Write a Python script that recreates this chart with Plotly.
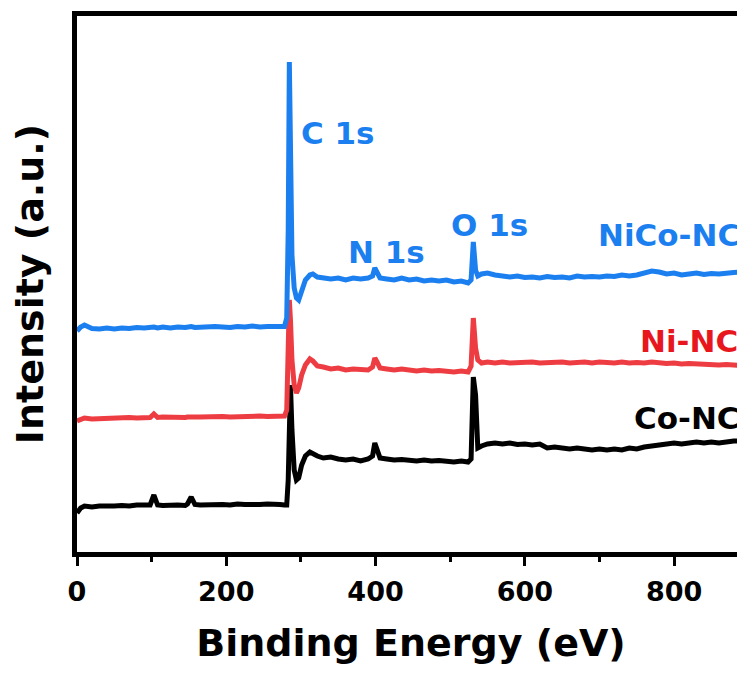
import plotly.graph_objects as go

# Binding energy grid (eV)
energy_ev = [0, 5, 10, 20, 30, 40, 50, 60, 70, 80, 90, 98, 103, 108, 115, 125, 135, 145, 148, 153,
             158, 165, 175, 185, 195, 205, 215, 225, 235, 245, 255, 265, 272, 278, 281, 283, 284.5, 286, 288, 291,
             294, 297, 301, 306, 312, 316, 322, 330, 340, 350, 360, 370, 380, 390, 396, 399, 402, 406, 415, 425,
             435, 445, 455, 465, 475, 485, 495, 505, 515, 524, 528, 531, 534, 537, 542, 550, 560, 570, 580, 590,
             600, 610, 620, 630, 640, 650, 660, 670, 680, 690, 700, 710, 720, 730, 740, 750, 760, 770, 780, 790,
             800, 810, 820, 830, 840, 850, 860, 870, 880, 895]

# Intensities (a.u., offset stacked as in the figure)
nico_nc = [221, 225, 227, 223.5, 223, 224, 223, 224, 223.5, 224.5, 224, 224.5, 225, 224, 225, 224, 225, 224.5, 225, 225.5,
           224.5, 225, 224.5, 225.5, 225, 224.5, 225.5, 225, 226, 225, 225.5, 225, 225.5, 225.5, 234, 322, 490, 412, 297, 264,
           254, 252, 262, 272, 277, 278, 275, 274, 273, 274, 272, 274, 273, 274, 276, 284, 280, 274, 273, 272,
           274, 272, 273, 271, 272, 271, 272, 270, 271, 269, 272, 310, 282, 276, 278, 279, 277, 276, 275, 276,
           274.5, 275, 274, 275.5, 274.5, 275, 274, 276, 275, 275.5, 275, 276, 275.5, 277, 276, 277, 279, 281, 280, 278,
           279, 277, 278, 279, 277.5, 278.5, 278, 279, 279.5, 280]

ni_nc = [131, 133, 134, 133, 133.5, 134, 133.5, 134, 134.5, 134, 134.5, 134.5, 138, 134.5, 135, 134.5, 135, 134.5, 135, 135.5,
         135, 135, 135.5, 135, 135.5, 135, 135.5, 136, 135.5, 136, 135.5, 136, 135.5, 136, 142, 212, 252, 232, 192, 167,
         159, 164, 177, 187, 193, 191, 186, 185, 183, 184, 182, 183, 182, 182, 185, 194, 190, 184, 183, 182,
         183, 182, 181, 182, 181, 181.5, 181, 180, 181, 180, 186, 234, 204, 192, 189, 190, 189, 190, 189, 189.5,
         189, 190, 189, 189.5, 189, 190, 189, 189.5, 190, 189, 190, 189.5, 189, 190, 189, 189.5, 189, 190, 189, 188.5,
         189, 188, 188.5, 188, 187.5, 188, 187, 187.5, 187, 186]

co_nc = [39, 44, 46, 45, 46, 45.5, 46, 46.5, 46, 47, 46.5, 47, 57, 47, 46.5, 47, 47, 46.5, 48, 55,
         47.5, 47, 47.5, 47, 47.5, 47, 48, 47.5, 47, 47.5, 48, 47, 47.5, 47, 47, 72, 132, 167, 122, 82,
         72, 74, 87, 96, 100, 98, 96, 94, 95, 93, 92, 93, 91, 93, 96, 109, 102, 94, 93, 92,
         92.5, 92, 91, 92, 91, 91.5, 91, 90, 91, 90, 93, 175, 157, 104, 106, 108, 109, 108, 109, 107.5,
         108, 107, 108, 104, 105, 104, 103, 104, 103, 102, 103, 102, 103, 102, 104, 103, 105, 106, 107, 108,
         109, 108, 109, 110, 109, 110, 109, 110, 111, 111]

series_names = ["Co-NC", "Ni-NC", "NiCo-NC"]
series_colors = ["#000000", "#ee3d42", "#1c7ff0"]
series_values = [co_nc, ni_nc, nico_nc]

x_ticks = [0, 200, 400, 600, 800]

# Peak labels: (text, energy, intensity, color)
peak_labels = [
    ("C 1s", 350, 419, "#1c7ff0"),
    ("N 1s", 415, 300, "#1c7ff0"),
    ("O 1s", 552, 327, "#1c7ff0"),
    ("NiCo-NC", 793, 317, "#1c7ff0"),
    ("Ni-NC", 820, 211, "#e8161d"),
    ("Co-NC", 817, 134, "#000000"),
]

FONT = "DejaVu Sans"

fig = go.Figure()
for name, color, vals in zip(series_names, series_colors, series_values):
    fig.add_trace(go.Scatter(x=energy_ev, y=vals, mode="lines", name=name,
                             line=dict(color=color, width=5), showlegend=False))

for text, xv, yv, color in peak_labels:
    fig.add_annotation(x=xv, y=yv, xref="x", yref="y", text=text, showarrow=False,
                       xanchor="center", yanchor="middle",
                       font=dict(family=FONT, size=31, color=color, weight="bold"))

# page body has an 8px margin, so the figure is sized to fill the rest of the window
fig.update_layout(
    width=737, height=665,
    margin=dict(l=69, r=0, t=8, b=121),
    plot_bgcolor="white", paper_bgcolor="white",
    xaxis=dict(range=[0, 895], tickmode="array", tickvals=x_ticks,
               ticktext=[str(t) for t in x_ticks],
               showline=True, linecolor="black", linewidth=5, mirror=True,
               ticks="outside", ticklen=9, tickwidth=3, tickcolor="black",
               minor=dict(tickvals=[100, 300, 500, 700], ticks="outside", ticklen=5, tickwidth=3, tickcolor="black"),
               showgrid=False, zeroline=False, ticklabelstandoff=3,
               tickfont=dict(family=FONT, size=27, color="black", weight="bold"),
               title=dict(text="Binding Energy (eV)", standoff=24,
                          font=dict(family=FONT, size=38, color="black", weight="bold"))),
    yaxis=dict(range=[0, 536], showline=True, linecolor="black", linewidth=5, mirror=False,
               ticks="", showticklabels=False, showgrid=False, zeroline=False,
               title=dict(text="Intensity (a.u.)", standoff=24,
                          font=dict(family=FONT, size=38, color="black", weight="bold"))),
)

fig.write_html("out.html")
